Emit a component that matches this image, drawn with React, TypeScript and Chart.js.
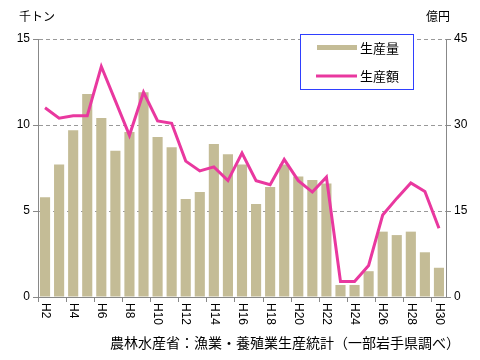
import React, { useEffect, useRef } from "react";
import { Chart, registerables } from "chart.js";

Chart.register(...registerables);

const categories = [
  "H2", "H3", "H4", "H5", "H6", "H7", "H8", "H9", "H10", "H11",
  "H12", "H13", "H14", "H15", "H16", "H17", "H18", "H19", "H20", "H21",
  "H22", "H23", "H24", "H25", "H26", "H27", "H28", "H29", "H30",
];
const volumeValues = [
  5.8, 7.7, 9.7, 11.8, 10.4, 8.5, 9.6, 11.9, 9.3, 8.7,
  5.7, 6.1, 8.9, 8.3, 7.7, 5.4, 6.4, 7.7, 7.0, 6.8,
  6.6, 0.7, 0.7, 1.5, 3.8, 3.6, 3.8, 2.6, 1.7,
];
const valueValues = [
  33.0, 31.2, 31.6, 31.6, 40.2, 34.2, 28.2, 35.7, 30.7, 30.3,
  23.7, 22.0, 22.7, 20.3, 25.1, 20.3, 19.6, 24.0, 20.3, 18.3,
  20.9, 2.7, 2.7, 5.5, 14.3, 17.2, 19.9, 18.4, 12.0,
];
const seriesNames = ["生産量", "生産額"];
const leftUnit = "千トン";
const rightUnit = "億円";
const sourceText = "農林水産省：漁業・養殖業生産統計（一部岩手県調べ）";

const BAR_COLOR = "#C4BC96";
const LINE_COLOR = "#E9389F";
const AXIS_COLOR = "#888888";
const GRID_COLOR = "#999999";
const JP_FONT = '"Noto Sans CJK JP", "Noto Sans", sans-serif';
const NUM_FONT = '"Liberation Sans", Arial, sans-serif';

const decorPlugin = {
  id: "decor",
  afterDraw(chart: any) {
    const ctx = chart.ctx as CanvasRenderingContext2D;
    const xs = chart.scales.x;
    const area = chart.chartArea;
    ctx.save();
    // x labels rotated clockwise, every other category
    ctx.fillStyle = "#000";
    ctx.font = `12px ${NUM_FONT}`;
    ctx.textAlign = "left";
    ctx.textBaseline = "middle";
    categories.forEach((lab, i) => {
      if (i % 2 !== 0) return;
      const x = xs.getPixelForValue(i);
      ctx.save();
      ctx.translate(x, area.bottom + 6);
      ctx.rotate(Math.PI / 2);
      ctx.fillText(lab, 0, 0);
      ctx.restore();
    });
    // unit titles
    ctx.font = `12px ${JP_FONT}`;
    ctx.textBaseline = "middle";
    ctx.textAlign = "left";
    ctx.fillText(leftUnit, 19, 16);
    ctx.textAlign = "right";
    ctx.fillText(rightUnit, 450, 16);
    // source
    ctx.font = `14px ${JP_FONT}`;
    ctx.textAlign = "right";
    ctx.fillText(sourceText, 460, 343);
    // legend
    const lx = 300, ly = 34, lw = 113, lh = 55;
    ctx.fillStyle = "#fff";
    ctx.fillRect(lx, ly, lw, lh);
    ctx.strokeStyle = "#2F3FFF";
    ctx.lineWidth = 1;
    ctx.strokeRect(lx + 0.5, ly + 0.5, lw, lh);
    ctx.fillStyle = BAR_COLOR;
    ctx.fillRect(317, 45, 40, 5);
    ctx.strokeStyle = LINE_COLOR;
    ctx.lineWidth = 3;
    ctx.beginPath();
    ctx.moveTo(316, 76);
    ctx.lineTo(357, 76);
    ctx.stroke();
    ctx.fillStyle = "#000";
    ctx.font = `13px ${JP_FONT}`;
    ctx.textAlign = "left";
    ctx.fillText(seriesNames[0], 360, 48);
    ctx.fillText(seriesNames[1], 360, 76);
    ctx.restore();
  },
};

export default function App() {
  const ref = useRef<HTMLCanvasElement>(null);
  useEffect(() => {
    document.body.style.margin = "0";
    if (!ref.current) return;
    const chart = new Chart(ref.current, {
      type: "bar",
      data: {
        labels: categories,
        datasets: [
          {
            type: "line",
            label: seriesNames[1],
            data: valueValues,
            yAxisID: "y1",
            borderColor: LINE_COLOR,
            backgroundColor: LINE_COLOR,
            borderWidth: 3,
            pointRadius: 0,
            tension: 0,
            order: 0,
          } as any,
          {
            type: "bar",
            label: seriesNames[0],
            data: volumeValues,
            yAxisID: "y",
            backgroundColor: BAR_COLOR,
            categoryPercentage: 1,
            barPercentage: 0.72,
            order: 1,
          },
        ],
      },
      options: {
        responsive: false,
        animation: false,
        devicePixelRatio: 1,
        layout: { padding: { top: 39, left: 0, right: 0, bottom: 0 } },
        plugins: { legend: { display: false }, tooltip: { enabled: false } },
        scales: {
          x: {
            type: "category",
            offset: true,
            grid: {
              offset: true,
              drawOnChartArea: false,
              drawTicks: true,
              tickLength: 5,
              tickColor: (c: any) =>
                typeof c.index === "number" && c.index % 2 === 0 ? AXIS_COLOR : "rgba(0,0,0,0)",
            },
            border: { color: AXIS_COLOR },
            ticks: { display: false },
            afterFit: (s: any) => {
              s.height = 63;
            },
          },
          y: {
            position: "left",
            min: 0,
            max: 15,
            ticks: {
              stepSize: 5,
              color: "#000",
              font: { family: NUM_FONT, size: 12 },
              padding: 3,
            },
            grid: {
              color: (c: any) => (c.tick && c.tick.value === 0 ? "rgba(0,0,0,0)" : GRID_COLOR),
              tickBorderDash: [],
              tickColor: AXIS_COLOR,
              tickLength: 5,
              drawTicks: true,
            } as any,
            border: { color: AXIS_COLOR, dash: [4, 3] },
            afterFit: (s: any) => {
              s.width = 38;
            },
          },
          y1: {
            position: "right",
            min: 0,
            max: 45,
            ticks: {
              stepSize: 15,
              color: "#000",
              font: { family: NUM_FONT, size: 12 },
              padding: 3,
            },
            grid: {
              drawOnChartArea: false,
              tickColor: AXIS_COLOR,
              tickLength: 5,
              drawTicks: true,
            },
            border: { color: AXIS_COLOR },
            afterFit: (s: any) => {
              s.width = 34;
            },
          },
        },
      },
      plugins: [decorPlugin],
    });
    return () => chart.destroy();
  }, []);
  return <canvas ref={ref} width={480} height={360} style={{ display: "block" }} />;
}
